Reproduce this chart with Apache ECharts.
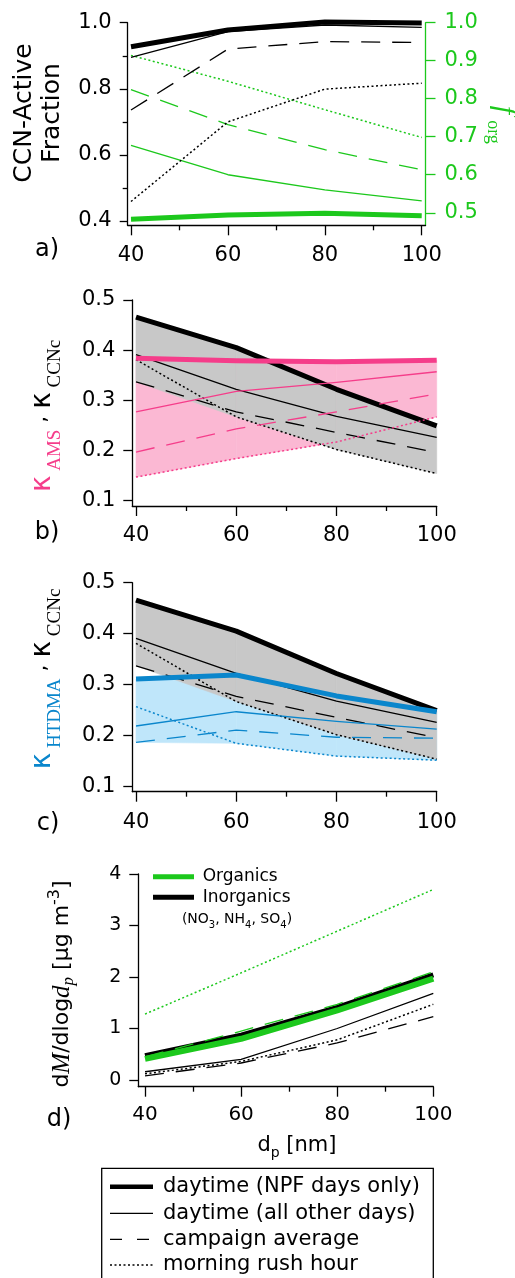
<!DOCTYPE html>
<html>
<head>
<meta charset="utf-8">
<script src="https://cdn.jsdelivr.net/npm/echarts@6/dist/echarts.min.js"></script>
<style>
html, body { margin: 0; padding: 0; background: #fff; }
#chart { width: 515px; height: 1278px; }
</style>
</head>
<body>
<div id="chart"></div>
<script>
// particle diameter [nm]
const dp = [40, 60, 80, 100];

// a) CCN-active fraction (left) and f_org (right)
const ccnNpf   = [0.927, 0.978, 1.002, 0.999];
const ccnOther = [0.895, 0.973, 0.993, 0.986];
const ccnAvg   = [0.736, 0.920, 0.943, 0.940];
const ccnRush  = [0.459, 0.700, 0.799, 0.817];
const forgNpf   = [0.483, 0.494, 0.499, 0.492];
const forgOther = [0.677, 0.600, 0.560, 0.531];
const forgAvg   = [0.824, 0.732, 0.666, 0.613];
const forgRush  = [0.914, 0.846, 0.771, 0.698];

// b, c) kappa from CCNc
const kCcnNpf   = [0.466, 0.405, 0.322, 0.249];
const kCcnOther = [0.391, 0.322, 0.268, 0.226];
const kCcnAvg   = [0.337, 0.277, 0.236, 0.196];
const kCcnRush  = [0.381, 0.267, 0.202, 0.154];
// b) kappa from AMS
const kAmsNpf   = [0.384, 0.379, 0.377, 0.380];
const kAmsOther = [0.277, 0.318, 0.336, 0.357];
const kAmsAvg   = [0.197, 0.243, 0.277, 0.313];
const kAmsRush  = [0.147, 0.184, 0.217, 0.267];
// c) kappa from HTDMA
const kHtNpf   = [0.311, 0.319, 0.278, 0.247];
const kHtOther = [0.219, 0.247, 0.228, 0.213];
const kHtAvg   = [0.187, 0.211, 0.197, 0.195];
const kHtRush  = [0.257, 0.185, 0.160, 0.152];

// d) dM/dlogdp, organics and inorganics
const orgNpf  = [0.41, 0.80, 1.35, 1.97];
const orgAvg  = [0.45, 0.95, 1.47, 2.10];
const orgRush = [1.28, 2.08, 2.89, 3.70];
const inoNpf   = [0.47, 0.87, 1.41, 2.04];
const inoOther = [0.16, 0.40, 1.00, 1.68];
const inoAvg   = [0.08, 0.33, 0.72, 1.23];
const inoRush  = [0.12, 0.36, 0.78, 1.47];

// tick labels
const xTicks = [40, 60, 80, 100];
const xMinor = [50, 70, 90];
const ccnTicks = [0.4, 0.6, 0.8, 1.0];
const ccnMinor = [0.5, 0.7, 0.9];
const forgTicks = [0.5, 0.6, 0.7, 0.8, 0.9, 1.0];
const kTicks = [0.1, 0.2, 0.3, 0.4, 0.5];
const massTicks = [0, 1, 2, 3, 4];

const FONT = 'DejaVu Sans';
const SERIF = 'Liberation Serif';
const BLACK = '#000';
const GREEN = '#1cc81c';
const PINK = '#f53d8a';
const PINK_FILL = '#fbb8d3';
const BLUE = '#0a86cc';
const BLUE_FILL = '#bfe6fa';
const GREY_FILL = '#c8c8c8';

const DASH = [19, 12];
const DOT = [2, 2.5];

const pairs = (v) => dp.map((x, i) => [x, v[i]]);

function xAxes(grid, min, max, margin) {
  return [{
    type: 'value', gridIndex: grid, min: min, max: max, position: 'bottom',
    axisLine: { show: true, onZero: false, lineStyle: { color: BLACK, width: 1.3 } },
    axisTick: { show: true, length: 10, customValues: xTicks, lineStyle: { color: BLACK, width: 1.3 } },
    axisLabel: { show: true, customValues: xTicks, margin: margin, color: BLACK, fontFamily: FONT, fontSize: grid === 3 ? 20 : 21 },
    splitLine: { show: false }
  }, {
    type: 'value', gridIndex: grid, min: min, max: max, position: 'bottom',
    axisLine: { show: false, onZero: false },
    axisTick: { show: true, length: 5, customValues: xMinor, lineStyle: { color: BLACK, width: 1.3 } },
    axisLabel: { show: false },
    splitLine: { show: false }
  }];
}

function yAxis(grid, min, max, ticks, opts) {
  opts = opts || {};
  const color = opts.color || BLACK;
  return {
    type: 'value', gridIndex: grid, min: min, max: max, position: opts.position || 'left',
    axisLine: { show: opts.line !== false, onZero: false, lineStyle: { color: color, width: 1.3 } },
    axisTick: { show: true, length: opts.tickLen || 9, customValues: ticks, lineStyle: { color: color, width: 1.3 } },
    axisLabel: {
      show: opts.labels !== false, customValues: ticks, margin: opts.margin || 17, color: color,
      fontFamily: FONT, fontSize: opts.fontSize || 21,
      formatter: (v) => opts.digits === 0 ? String(Math.round(v)) : v.toFixed(1)
    },
    splitLine: { show: false }
  };
}

function line(xi, yi, vals, color, width, type, z) {
  return {
    type: 'line', xAxisIndex: xi, yAxisIndex: yi, data: pairs(vals),
    symbol: 'none', clip: false, silent: true, z: z || 5,
    lineStyle: { color: color, width: width, type: type || 'solid', cap: 'butt', join: 'round' }
  };
}

// shaded band between the highest and lowest of several curves, one quad per interval
function band(xi, yi, curves, color, z) {
  const lo = dp.map((_, i) => Math.min(...curves.map(c => c[i])));
  const hi = dp.map((_, i) => Math.max(...curves.map(c => c[i])));
  const segs = [];
  for (let i = 0; i < dp.length - 1; i++) {
    segs.push([dp[i], lo[i], hi[i], dp[i + 1], lo[i + 1], hi[i + 1]]);
  }
  return {
    type: 'custom', xAxisIndex: xi, yAxisIndex: yi, z: z, silent: true, data: segs,
    renderItem: (params, api) => {
      const pts = [
        api.coord([api.value(0), api.value(2)]),
        api.coord([api.value(3), api.value(5)]),
        api.coord([api.value(3), api.value(4)]),
        api.coord([api.value(0), api.value(1)])
      ];
      return { type: 'polygon', shape: { points: pts }, style: { fill: color, stroke: color, lineWidth: 0.6 } };
    }
  };
}

const series = [
  // a)
  line(0, 2, forgNpf, GREEN, 5),
  line(0, 2, forgOther, GREEN, 1.3),
  line(0, 2, forgAvg, GREEN, 1.3, DASH),
  line(0, 2, forgRush, GREEN, 1.5, DOT),
  line(0, 0, ccnOther, BLACK, 1.3),
  line(0, 0, ccnAvg, BLACK, 1.3, DASH),
  line(0, 0, ccnRush, BLACK, 1.5, DOT),
  line(0, 0, ccnNpf, BLACK, 5),
  // b)
  band(2, 3, [kAmsNpf, kAmsOther, kAmsAvg, kAmsRush], PINK_FILL, 1),
  band(2, 3, [kCcnNpf, kCcnOther, kCcnAvg, kCcnRush], GREY_FILL, 2),
  line(2, 3, kCcnOther, BLACK, 1.3),
  line(2, 3, kCcnAvg, BLACK, 1.3, DASH),
  line(2, 3, kCcnRush, BLACK, 1.5, DOT),
  line(2, 3, kCcnNpf, BLACK, 5),
  line(2, 3, kAmsOther, PINK, 1.3),
  line(2, 3, kAmsAvg, PINK, 1.3, DASH),
  line(2, 3, kAmsRush, PINK, 1.5, DOT),
  line(2, 3, kAmsNpf, PINK, 5),
  // c)
  band(4, 4, [kHtNpf, kHtOther, kHtAvg, kHtRush], BLUE_FILL, 1),
  band(4, 4, [kCcnNpf, kCcnOther, kCcnAvg, kCcnRush], GREY_FILL, 2),
  line(4, 4, kCcnOther, BLACK, 1.3),
  line(4, 4, kCcnAvg, BLACK, 1.3, DASH),
  line(4, 4, kCcnRush, BLACK, 1.5, DOT),
  line(4, 4, kCcnNpf, BLACK, 5),
  line(4, 4, kHtOther, BLUE, 1.3),
  line(4, 4, kHtAvg, BLUE, 1.3, DASH),
  line(4, 4, kHtRush, BLUE, 1.5, DOT),
  line(4, 4, kHtNpf, BLUE, 5),
  // d)
  line(6, 5, inoNpf, BLACK, 5),
  line(6, 5, orgNpf, GREEN, 6),
  line(6, 5, orgAvg, GREEN, 1.3, DASH),
  line(6, 5, orgRush, GREEN, 1.5, DOT),
  line(6, 5, inoOther, BLACK, 1.3),
  line(6, 5, inoAvg, BLACK, 1.3, DASH),
  line(6, 5, inoRush, BLACK, 1.5, DOT)
];

function txt(x, y, text, size, extra) {
  return {
    type: 'text', x: x, y: y, silent: true,
    style: Object.assign({ text: text, fill: BLACK, font: size + 'px "' + FONT + '"', align: 'center', verticalAlign: 'middle' }, extra || {})
  };
}

function seg(x1, x2, y, color, width, dash) {
  return {
    type: 'line', silent: true,
    shape: { x1: x1, y1: y, x2: x2, y2: y },
    style: { stroke: color, lineWidth: width, lineDash: dash || null, lineCap: 'butt' }
  };
}

const kappaRich = (color) => ({
  k:  { fill: color, fontFamily: FONT, fontSize: 28, lineHeight: 32, verticalAlign: 'top' },
  s:  { fill: color, fontFamily: SERIF, fontSize: 19, lineHeight: 20, verticalAlign: 'bottom' },
  c:  { fill: BLACK, fontFamily: FONT, fontSize: 22, lineHeight: 36, verticalAlign: 'top' },
  bk: { fill: BLACK, fontFamily: FONT, fontSize: 28, lineHeight: 32, verticalAlign: 'top' },
  bs: { fill: BLACK, fontFamily: SERIF, fontSize: 19, lineHeight: 20, verticalAlign: 'bottom' }
});

const graphics = [
  // panel letters
  txt(47, 250, 'a)', 24),
  txt(47, 533, 'b)', 24),
  txt(48, 824, 'c)', 24),
  txt(59, 1120, 'd)', 24),
  // a) titles
  Object.assign(txt(38, 113, 'CCN-Active\nFraction', 25, { lineHeight: 28 }), { rotation: Math.PI / 2 }),
  Object.assign(txt(504, 110, 'f', 30, { fill: GREEN, font: 'italic 30px "' + SERIF + '"' }), { rotation: -Math.PI / 2 }),
  Object.assign(txt(493, 132, 'org', 18, { fill: GREEN, font: '18px "' + SERIF + '"' }), { rotation: -Math.PI / 2 }),
  // b) title
  {
    type: 'text', x: 47, y: 416, rotation: Math.PI / 2, silent: true,
    style: { text: '{k|κ}{s| AMS}{c| , }{bk|κ}{bs| CCNc}', align: 'center', verticalAlign: 'middle', rich: kappaRich(PINK) }
  },
  // c) title
  {
    type: 'text', x: 47, y: 679, rotation: Math.PI / 2, silent: true,
    style: { text: '{k|κ}{s| HTDMA}{c| , }{bk|κ}{bs| CCNc}', align: 'center', verticalAlign: 'middle', rich: kappaRich(BLUE) }
  },
  // d) y title
  {
    type: 'text', x: 62, y: 984, rotation: Math.PI / 2, silent: true,
    style: {
      text: '{n|d}{mi|M}{n|/dlog}{mi|d}{sub|p}{n| [μg m}{sup|-3}{n|]}', align: 'center', verticalAlign: 'middle',
      rich: {
        n:   { fill: BLACK, fontFamily: FONT, fontSize: 22, lineHeight: 30, verticalAlign: 'middle' },
        mi:  { fill: BLACK, fontFamily: SERIF, fontStyle: 'italic', fontSize: 25, lineHeight: 30, verticalAlign: 'middle' },
        sub: { fill: BLACK, fontFamily: SERIF, fontStyle: 'italic', fontSize: 17, lineHeight: 17, verticalAlign: 'bottom' },
        sup: { fill: BLACK, fontFamily: FONT, fontSize: 16, lineHeight: 16, verticalAlign: 'top' }
      }
    }
  },
  // d) x title
  {
    type: 'text', x: 297, y: 1146, silent: true,
    style: {
      text: '{n|d}{s|p}{n| [nm]}', align: 'center', verticalAlign: 'middle',
      rich: {
        n: { fill: BLACK, fontFamily: FONT, fontSize: 21, lineHeight: 28, verticalAlign: 'middle' },
        s: { fill: BLACK, fontFamily: FONT, fontSize: 14, lineHeight: 14, verticalAlign: 'bottom' }
      }
    }
  },
  // d) species legend
  seg(153, 194, 876.7, GREEN, 5),
  txt(202.7, 876.7, 'Organics', 17, { align: 'left' }),
  seg(153, 194, 897.3, BLACK, 5),
  txt(202.7, 897.3, 'Inorganics', 17, { align: 'left' }),
  {
    type: 'text', x: 237, y: 919, silent: true,
    style: {
      text: '(NO{s|3}, NH{s|4}, SO{s|4})', align: 'center', verticalAlign: 'middle',
      font: '14px "' + FONT + '"', fill: BLACK,
      rich: { s: { fill: BLACK, fontFamily: FONT, fontSize: 10, lineHeight: 22, verticalAlign: 'bottom' } }
    }
  },
  // time-period legend box
  {
    type: 'rect', silent: true,
    shape: { x: 101.7, y: 1168.3, width: 331.6, height: 120 },
    style: { fill: '#fff', stroke: BLACK, lineWidth: 1.3 }
  },
  seg(110, 153, 1186.7, BLACK, 4.5),
  txt(163, 1186.7, 'daytime (NPF days only)', 21, { align: 'left' }),
  seg(110, 153, 1213.3, BLACK, 1.3),
  txt(163, 1213.3, 'daytime (all other days)', 21, { align: 'left' }),
  seg(110, 153, 1239.3, BLACK, 1.3, [12, 15]),
  txt(163, 1239.3, 'campaign average', 21, { align: 'left' }),
  seg(110, 153, 1265, BLACK, 1.3, [2, 2.5]),
  txt(163, 1265, 'morning rush hour', 21, { align: 'left' })
];

const chart = echarts.init(document.getElementById('chart'), null, { renderer: 'canvas' });
chart.setOption({
  animation: false,
  backgroundColor: '#fff',
  grid: [
    { left: 127.7, top: 22.7, width: 297.8, height: 202.6 },
    { left: 132.3, top: 300, width: 304.4, height: 206 },
    { left: 132.3, top: 582.7, width: 304.4, height: 209 },
    { left: 138.3, top: 874, width: 295, height: 212.7 }
  ],
  xAxis: [
    ...xAxes(0, 39.32, 100.78, 20),
    ...xAxes(1, 39.26, 100, 19),
    ...xAxes(2, 39.26, 100, 20),
    ...xAxes(3, 38.6, 100, 18)
  ],
  yAxis: [
    yAxis(0, 0.387, 1.0, ccnTicks, { tickLen: 8, margin: 16 }),
    yAxis(0, 0.387, 1.0, ccnMinor, { tickLen: 5, labels: false, line: false }),
    yAxis(0, 0.467, 1.0, forgTicks, { position: 'right', color: GREEN, tickLen: 10, margin: 19 }),
    yAxis(1, 0.0894, 0.5, kTicks),
    yAxis(2, 0.0902, 0.5, kTicks),
    yAxis(3, -0.13, 4, massTicks, { digits: 0, fontSize: 19, margin: 17 })
  ],
  series: series,
  graphic: graphics
});
</script>
</body>
</html>
